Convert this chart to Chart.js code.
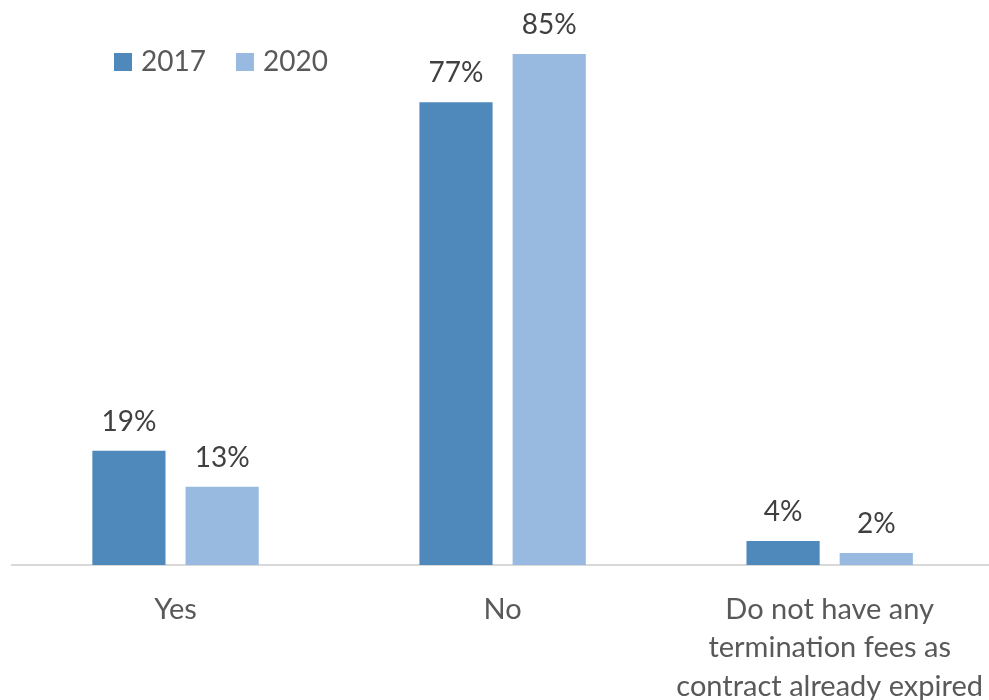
<!DOCTYPE html>
<html>
<head>
<meta charset="utf-8">
<script src="https://cdn.jsdelivr.net/npm/chart.js@4/dist/chart.umd.min.js"></script>
<style>
  html, body { margin: 0; padding: 0; background: #fff; overflow: hidden; }
  canvas { display: block; }
</style>
</head>
<body>
<canvas id="feesChart" width="1000" height="700"></canvas>
<script>
// Survey answers, share of respondents (%)
const categories = [
  'Yes',
  'No',
  ['Do not have any', 'termination fees as', 'contract already expired']
];
const years = ['2017', '2020'];
const values2017 = [19, 77, 4];
const values2020 = [13, 85, 2];

const FONT = 'Lato, "Open Sans", sans-serif';
const ctx = document.getElementById('feesChart').getContext('2d');

// value labels above every bar
const barLabels = {
  id: 'barLabels',
  afterDatasetsDraw(chart) {
    const c = chart.ctx;
    c.save();
    c.font = '28px ' + FONT;
    c.fillStyle = '#404040';
    c.textAlign = 'center';
    c.textBaseline = 'alphabetic';
    chart.data.datasets.forEach((ds, i) => {
      chart.getDatasetMeta(i).data.forEach((bar, j) => {
        c.fillText(ds.data[j] + '%', bar.x, bar.y - 20);
      });
    });
    c.restore();
  }
};

// legend drawn inside the plot, top left
const insideLegend = {
  id: 'insideLegend',
  afterDraw(chart) {
    const c = chart.ctx;
    c.save();
    c.font = '28px ' + FONT;
    c.textBaseline = 'middle';
    c.textAlign = 'left';
    let x = 114;
    const y = 53;
    chart.data.datasets.forEach(ds => {
      c.fillStyle = ds.backgroundColor;
      c.fillRect(x, y, 18, 18);
      c.fillStyle = '#595959';
      c.fillText(ds.label, x + 27, y + 9);
      x += 27 + c.measureText(ds.label).width + 30;
    });
    c.restore();
  }
};

new Chart(ctx, {
  type: 'bar',
  data: {
    labels: categories,
    datasets: [
      {
        label: years[0],
        data: values2017,
        backgroundColor: 'rgb(79,137,188)',
        categoryPercentage: 0.57,
        barPercentage: 0.785
      },
      {
        label: years[1],
        data: values2020,
        backgroundColor: 'rgb(152,185,224)',
        categoryPercentage: 0.57,
        barPercentage: 0.785
      }
    ]
  },
  options: {
    responsive: false,
    animation: false,
    layout: { padding: { left: 12, right: 0, top: 0, bottom: 0 } },
    plugins: {
      legend: { display: false },
      tooltip: { enabled: false }
    },
    scales: {
      x: {
        grid: { display: false },
        border: { display: true, color: '#d9d9d9', width: 2 },
        ticks: {
          color: '#595959',
          padding: 17,
          maxRotation: 0,
          autoSkip: false,
          font: { family: FONT, size: 29, lineHeight: 1.33 }
        },
        afterFit(scale) { scale.height = 135; }
      },
      y: {
        display: false,
        min: 0,
        max: 94
      }
    }
  },
  plugins: [barLabels, insideLegend]
});
</script>
</body>
</html>
